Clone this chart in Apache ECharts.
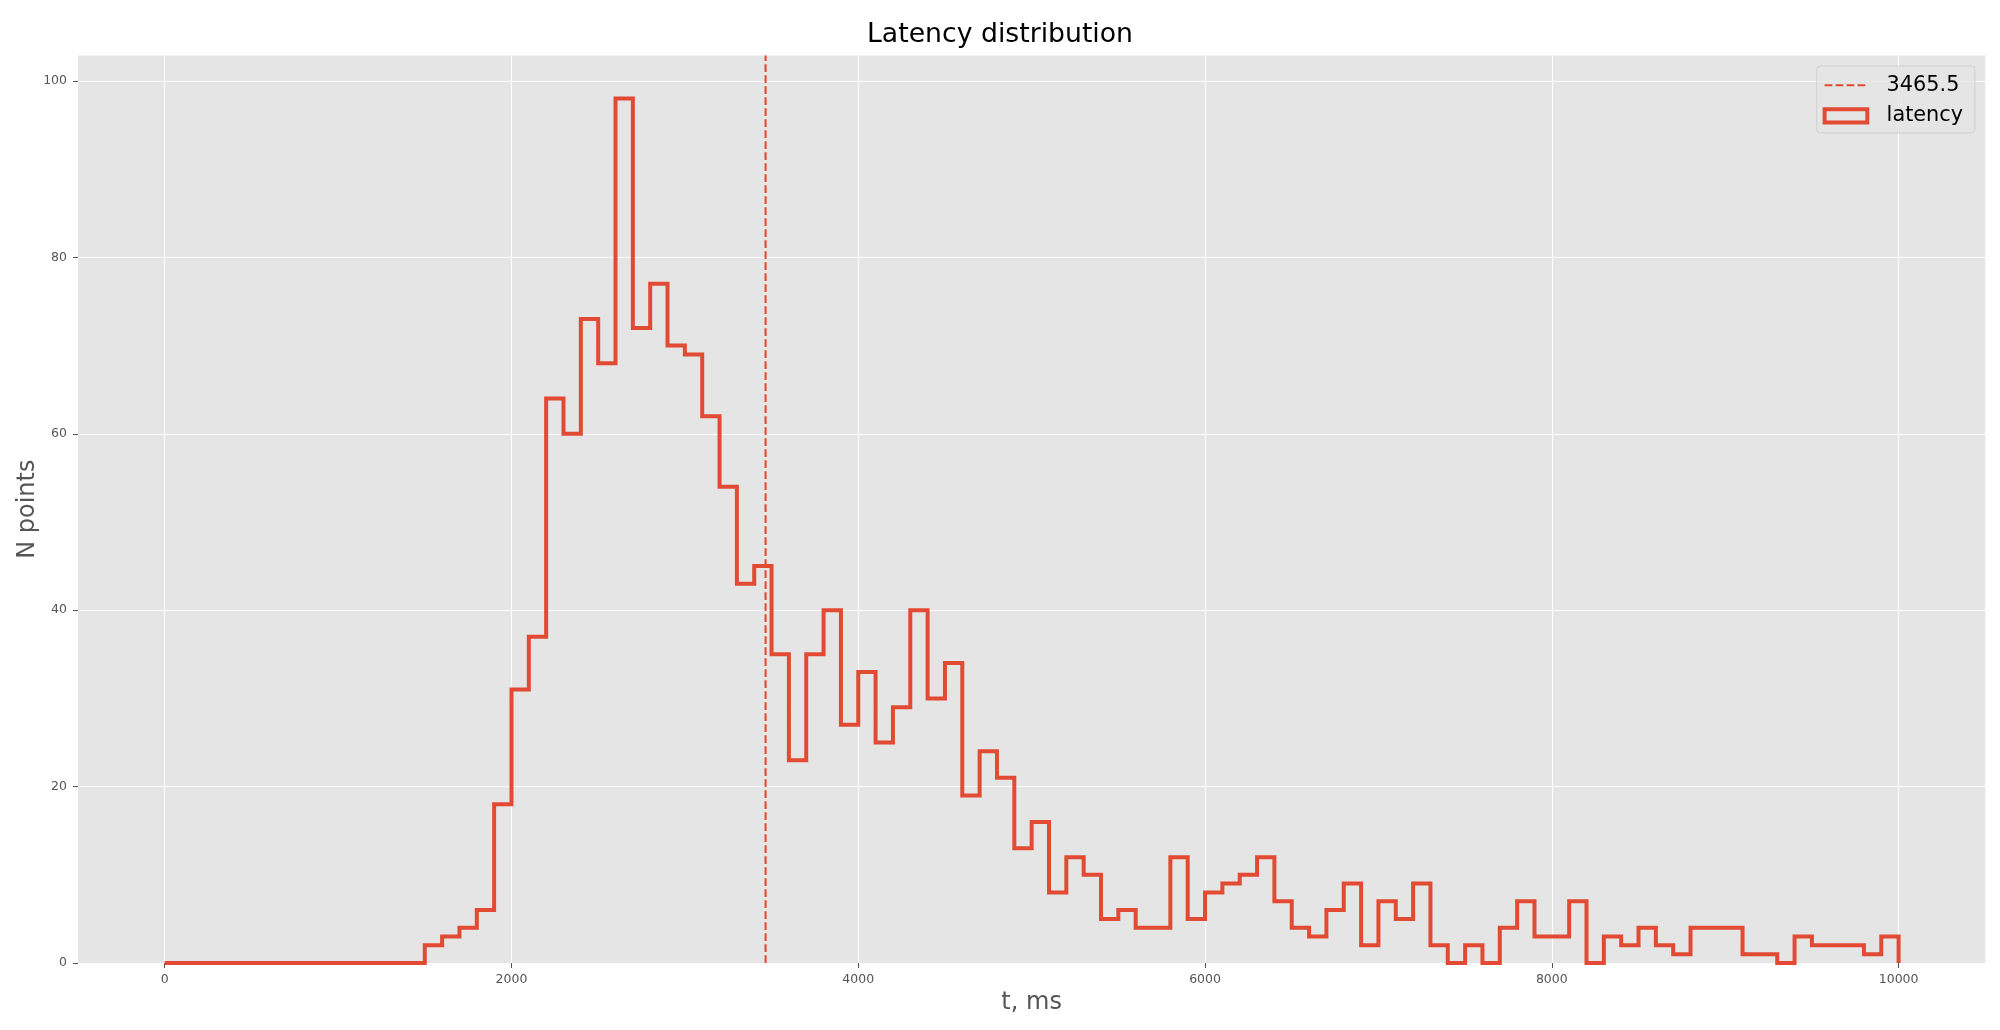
<!DOCTYPE html>
<html>
<head>
<meta charset="utf-8">
<script src="https://cdn.jsdelivr.net/npm/echarts@6/dist/echarts.min.js"></script>
<style>
html,body{margin:0;padding:0;background:#fff;}
#chart{width:2000px;height:1030px;}
</style>
</head>
<body>
<div id="chart"></div>
<script>
// ---- data ----
var binStart = 0;
var binWidth = 100;
var counts = [
  0,0,0,0,0,0,0,0,0,0,
  0,0,0,0,0,2,3,4,6,18,
  31,37,64,60,73,68,98,72,77,70,
  69,62,54,43,45,35,23,35,40,27,
  33,25,29,40,30,34,19,24,21,13,
  16,8,12,10,5,6,4,4,12,5,
  8,9,10,12,7,4,3,6,9,2,
  7,5,9,2,0,2,0,4,7,3,
  3,7,0,3,2,4,2,1,4,4,
  4,1,1,0,3,2,2,2,1,3
];
var meanValue = 3465.5;
var xTicks = [0, 2000, 4000, 6000, 8000, 10000];
var yTicks = [0, 20, 40, 60, 80, 100];
var titleText = 'Latency distribution';
var xName = 't, ms';
var yName = 'N points';
var histName = 'latency';
var meanName = '3465.5';

// ---- build step outline from bins ----
var stepData = [];
for (var i = 0; i < counts.length; i++) {
  stepData.push([binStart + i * binWidth, counts[i]]);
}
stepData.push([binStart + counts.length * binWidth, 0]);

var yMax = 102.9;
var RED = '#E24A33';
var FONT = 'DejaVu Sans';

var chart = echarts.init(document.getElementById('chart'), null, {renderer: 'canvas'});
var dashIcon = 'path://M0,0 M42.7,0 M0,0h7.7v2.1h-7.7z M11,0h7.7v2.1h-7.7z M22,0h7.7v2.1h-7.7z M33,0h7.7v2.1h-7.7z';
var plainNum = function (v) { return String(v); };

chart.setOption({
  animation: false,
  backgroundColor: '#ffffff',
  title: {
    text: titleText,
    left: 'center',
    top: 17,
    textStyle: {fontFamily: FONT, fontSize: 26.7, fontWeight: 'normal', color: '#000'}
  },
  legend: {
    right: 25,
    top: 66,
    orient: 'vertical',
    align: 'left',
    selectedMode: false,
    padding: [7.2, 12, 5.2, 6],
    itemGap: 6.6,
    itemWidth: 42.7,
    itemHeight: 13.3,
    backgroundColor: 'rgba(229,229,229,0.8)',
    borderColor: 'rgba(204,204,204,0.8)',
    borderWidth: 1,
    borderRadius: 4,
    textStyle: {fontFamily: FONT, fontSize: 20.8, color: '#000', lineHeight: 24, padding: [0, 0, 0, 14.3]},
    data: [
      {name: meanName, icon: dashIcon, itemStyle: {color: RED, borderWidth: 0}},
      {name: histName, icon: 'rect', itemStyle: {color: 'rgba(0,0,0,0)', borderColor: RED, borderWidth: 4}}
    ]
  },
  grid: {
    left: 78,
    right: 14.7,
    top: 55.4,
    bottom: 67,
    show: true,
    backgroundColor: '#E5E5E5',
    borderWidth: 0,
    containLabel: false,
    outerBoundsMode: 'none'
  },
  xAxis: {
    type: 'value',
    min: -500,
    max: 10500,
    name: xName,
    nameLocation: 'middle',
    nameGap: 28,
    nameMoveOverlap: false,
    nameTextStyle: {fontFamily: FONT, fontSize: 24, color: '#555'},
    axisLine: {show: false, onZero: false},
    axisTick: {show: true, inside: false, length: 5, lineStyle: {color: '#555', width: 1}, customValues: xTicks},
    axisLabel: {show: true, margin: 10, fontFamily: FONT, fontSize: 12.5, color: '#555', customValues: xTicks, formatter: plainNum},
    splitLine: {show: true, lineStyle: {color: '#ffffff', width: 1.1}}
  },
  yAxis: {
    type: 'value',
    min: 0,
    max: yMax,
    name: yName,
    nameLocation: 'middle',
    nameGap: 38,
    nameMoveOverlap: false,
    nameTextStyle: {fontFamily: FONT, fontSize: 24, color: '#555'},
    axisLine: {show: false, onZero: false},
    axisTick: {show: true, inside: false, length: 5, lineStyle: {color: '#555', width: 1}, customValues: yTicks},
    axisLabel: {show: true, margin: 11, fontFamily: FONT, fontSize: 12.5, color: '#555', customValues: yTicks, formatter: plainNum},
    splitLine: {show: true, lineStyle: {color: '#ffffff', width: 1.1}}
  },
  series: [
    {
      name: histName,
      type: 'line',
      step: 'end',
      symbol: 'none',
      data: stepData,
      itemStyle: {color: RED},
      lineStyle: {color: RED, width: 4, join: 'miter', cap: 'butt'},
      z: 3
    },
    {
      name: meanName,
      type: 'line',
      symbol: 'none',
      data: [[meanValue, 0], [meanValue, yMax]],
      itemStyle: {color: RED},
      lineStyle: {color: RED, width: 2.08, type: [7.7, 3.3], cap: 'butt'},
      z: 4
    }
  ]
});
</script>
</body>
</html>
